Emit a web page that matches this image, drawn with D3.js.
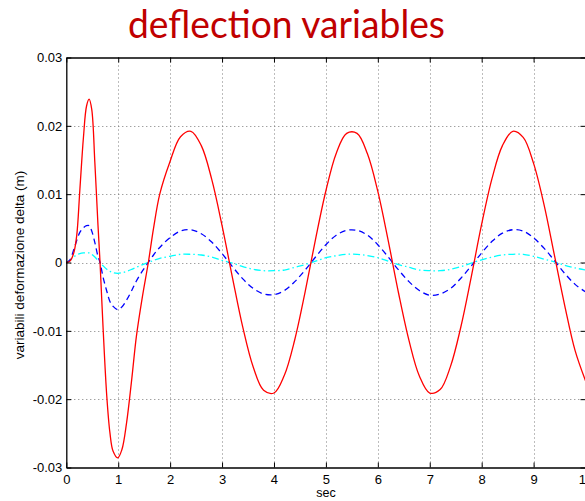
<!DOCTYPE html>
<html>
<head>
<meta charset="utf-8">
<script src="https://cdn.jsdelivr.net/npm/d3@7"></script>
<style>
  html, body { margin: 0; padding: 0; background: #fff; }
  svg { display: block; }
  .tick text { font-family: "Liberation Sans", Arial, Helvetica, sans-serif; font-size: 13px; fill: #000; }
</style>
</head>
<body>
<svg id="chart" width="585" height="501"></svg>
<script>
// time samples (s)
const time = [0, 0.07, 0.14, 0.2, 0.26, 0.33, 0.39, 0.44, 0.49, 0.55, 0.61, 0.65, 0.71, 0.78, 0.84, 0.9,
  0.99, 1.07, 1.16, 1.26, 1.35, 1.47, 1.58, 1.68, 1.8, 1.99,
  2.2, 2.4, 2.6, 2.8, 3.0, 3.2, 3.4, 3.6, 3.8, 4.0, 4.2, 4.4, 4.6, 4.8, 5.0, 5.2, 5.4, 5.6, 5.8, 6.0,
  6.2, 6.4, 6.6, 6.8, 7.0, 7.2, 7.4, 7.6, 7.8, 8.0, 8.2, 8.4, 8.6, 8.8, 9.0, 9.2, 9.4, 9.6, 9.8, 10.0];

// deflection variables (m)
const delta1 = [0, 0.0002, 0.0013, 0.0039, 0.0105, 0.0183, 0.0229, 0.0239, 0.0224, 0.0146, 0.0055, 0, -0.0098, -0.0196, -0.0249, -0.0276,
  -0.0286, -0.0274, -0.0235, -0.0171, -0.0108, -0.0048, 0, 0.0050, 0.0100, 0.0146,
  0.0184, 0.0192, 0.0171, 0.0122, 0.0054, -0.0022, -0.0095, -0.0153, -0.0187, -0.0191, -0.0165, -0.0113, -0.0043, 0.0034, 0.0105, 0.0160, 0.0189, 0.0189, 0.0159, 0.0104,
  0.0032, -0.0045, -0.0114, -0.0166, -0.0191, -0.0186, -0.0152, -0.0094, -0.0021, 0.0056, 0.0123, 0.0171, 0.0192, 0.0183, 0.0145, 0.0085, 0.0011, -0.0063, -0.0129, -0.0173];

const delta2 = [0, 0.0004, 0.0018, 0.0032, 0.0044, 0.0051, 0.0054, 0.0054, 0.0046, 0.0029, 0.0009, 0, -0.0022, -0.0042, -0.0057, -0.0064,
  -0.0069, -0.0065, -0.0055, -0.0041, -0.0027, -0.0012, 0, 0.0011, 0.0022, 0.0036,
  0.0046, 0.0048, 0.0042, 0.0030, 0.0013, -0.0006, -0.0024, -0.0038, -0.0046, -0.0047, -0.0041, -0.0028, -0.0011, 0.0008, 0.0026, 0.0040, 0.0047, 0.0047, 0.0040, 0.0026,
  0.0008, -0.0011, -0.0028, -0.0041, -0.0048, -0.0046, -0.0038, -0.0023, -0.0005, 0.0014, 0.0031, 0.0043, 0.0048, 0.0046, 0.0036, 0.0021, 0.0003, -0.0016, -0.0032, -0.0043];

const delta3 = [0, 0.0003, 0.0008, 0.0011, 0.0013, 0.0014, 0.0014, 0.0014, 0.0012, 0.0008, 0.0003, 0, -0.0005, -0.0010, -0.0013, -0.0015,
  -0.0016, -0.0015, -0.0013, -0.0010, -0.0007, -0.0003, 0, 0.0003, 0.0006, 0.0009,
  0.0012, 0.0012, 0.0011, 0.0008, 0.0003, -0.0001, -0.0006, -0.0010, -0.0012, -0.0012, -0.0011, -0.0007, -0.0003, 0.0002, 0.0007, 0.0010, 0.0012, 0.0012, 0.0010, 0.0007,
  0.0002, -0.0003, -0.0007, -0.0011, -0.0012, -0.0012, -0.0010, -0.0006, -0.0001, 0.0004, 0.0008, 0.0011, 0.0012, 0.0012, 0.0009, 0.0005, 0.0001, -0.0004, -0.0008, -0.0011];

const xTicks = [0, 1, 2, 3, 4, 5, 6, 7, 8, 9, 10];
const xTickLabels = ["0", "1", "2", "3", "4", "5", "6", "7", "8", "9", "10"];
const yTicks = [-0.03, -0.02, -0.01, 0, 0.01, 0.02, 0.03];
const yTickLabels = ["-0.03", "-0.02", "-0.01", "0", "0.01", "0.02", "0.03"];

const titleText = "deflection variables";
const xLabel = "sec";
const yLabel = "variabili deformazione delta (m)";

const svg = d3.select("#chart");
const plotLeft = 66.3, plotRight = 585.5, plotTop = 57.5, plotBottom = 467.5;

const x = d3.scaleLinear().domain([0, 10]).range([plotLeft, plotRight]);
const y = d3.scaleLinear().domain([-0.03, 0.03]).range([plotBottom, plotTop]);

// title
svg.append("text")
  .attr("x", 286.5).attr("y", 38)
  .attr("text-anchor", "middle")
  .attr("font-family", "Lato, 'Open Sans', sans-serif")
  .attr("font-size", 39)
  .attr("fill", "#c00000")
  .attr("textLength", 317)
  .attr("lengthAdjust", "spacingAndGlyphs")
  .text(titleText);

// dotted grid
const grid = svg.append("g").attr("stroke", "#7a7a7a").attr("stroke-width", 1)
  .attr("stroke-dasharray", "1,3");
grid.selectAll("line.gx").data(xTicks.slice(1, -1)).join("line")
  .attr("class", "gx")
  .attr("x1", d => Math.round(x(d)) + 0.5).attr("x2", d => Math.round(x(d)) + 0.5)
  .attr("y1", plotTop).attr("y2", plotBottom);
grid.selectAll("line.gy").data(yTicks.slice(1, -1)).join("line")
  .attr("class", "gy")
  .attr("y1", d => Math.round(y(d)) + 0.5).attr("y2", d => Math.round(y(d)) + 0.5)
  .attr("x1", plotLeft).attr("x2", plotRight);

// series
const series = [
  { values: delta1, color: "#ff0000", dash: null },
  { values: delta2, color: "#0000ff", dash: "6,4" },
  { values: delta3, color: "#00ffff", dash: "7,3,1.5,3" }
];
const line = d3.line().x(d => x(d[0])).y(d => y(d[1])).curve(d3.curveCatmullRom.alpha(0.5));
svg.append("g").selectAll("path").data(series.slice().reverse()).join("path")
  .attr("fill", "none")
  .attr("stroke", d => d.color)
  .attr("stroke-width", 1.3)
  .attr("stroke-dasharray", d => d.dash)
  .attr("d", d => line(time.map((t, i) => [t, d.values[i]])));

// axes with inward ticks on all four sides
const fmtX = d => xTickLabels[xTicks.indexOf(d)];
const fmtY = d => yTickLabels[yTicks.indexOf(d)];

const gB = svg.append("g").attr("transform", `translate(0,${plotBottom})`)
  .call(d3.axisBottom(x).tickValues(xTicks).tickFormat(fmtX).tickSizeInner(-5).tickSizeOuter(0).tickPadding(7));
const gT = svg.append("g").attr("transform", `translate(0,${plotTop})`)
  .call(d3.axisTop(x).tickValues(xTicks).tickFormat("").tickSizeInner(-5).tickSizeOuter(0));
const gL = svg.append("g").attr("transform", `translate(${plotLeft},0)`)
  .call(d3.axisLeft(y).tickValues(yTicks).tickFormat(fmtY).tickSizeInner(-5).tickSizeOuter(0).tickPadding(4));
const gR = svg.append("g").attr("transform", `translate(${plotRight},0)`)
  .call(d3.axisRight(y).tickValues(yTicks).tickFormat("").tickSizeInner(-5).tickSizeOuter(0));

[gB, gT, gL, gR].forEach(g => {
  g.select(".domain").attr("stroke", "#000").attr("stroke-width", 1.3);
  g.selectAll(".tick line").attr("stroke", "#000").attr("stroke-width", 1);
});

// axis labels
svg.append("text")
  .attr("x", 326).attr("y", 497)
  .attr("text-anchor", "middle")
  .attr("font-family", "'Liberation Sans', Arial, sans-serif")
  .attr("font-size", 12.5)
  .text(xLabel);

svg.append("text")
  .attr("transform", "translate(24,265) rotate(-90)")
  .attr("text-anchor", "middle")
  .attr("font-family", "'Liberation Sans', Arial, sans-serif")
  .attr("font-size", 13.5)
  .text(yLabel);
</script>
</body>
</html>
